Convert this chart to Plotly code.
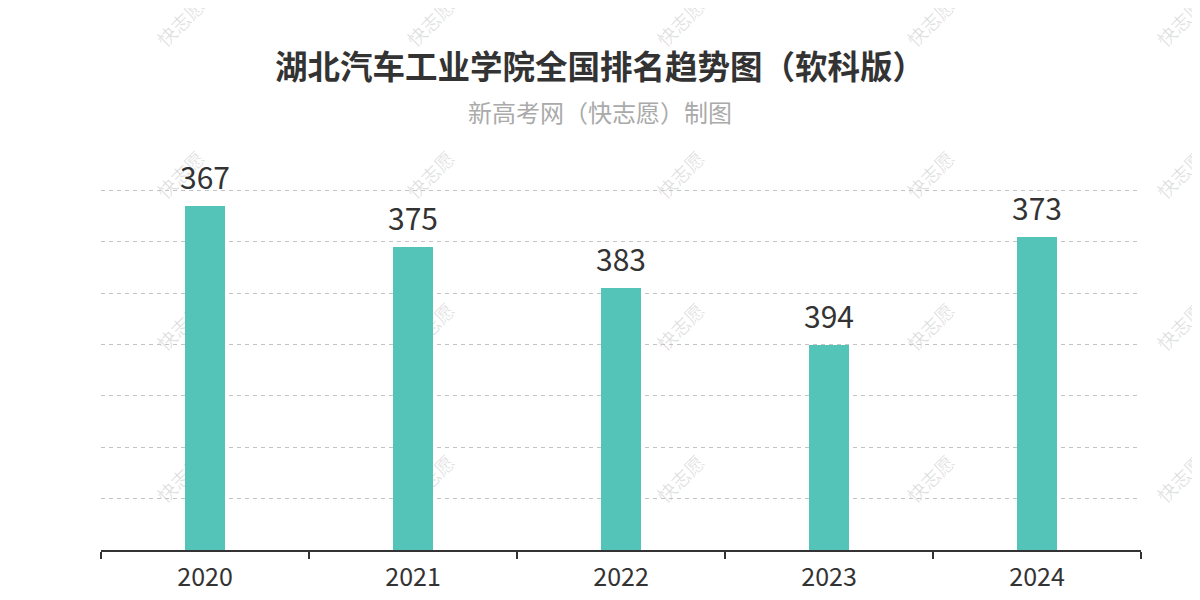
import base64
import plotly.graph_objects as go

# ---- data ----
years = ["2020", "2021", "2022", "2023", "2024"]
ranks = [367, 375, 383, 394, 373]
axis_bottom = 434   # rank value at the baseline (axis is inverted: better rank = taller bar)
axis_top = 364
grid_step = 10

title_text = "湖北汽车工业学院全国排名趋势图（软科版）"
subtitle_text = "新高考网（快志愿）制图"
watermark_text = "快志愿"

bar_color = "#55c4b8"
font_cjk = "Noto Sans CJK SC"

# page has an 8px body margin; figure coordinates = page coordinates - 8
OFF = 8
W, H = 1200 - OFF, 600 - OFF

# ---- watermark as a background image (drawn below traces) ----
wm_cols = [180, 430, 680, 930, 1180]
wm_rows = [22, 174, 326, 478]
parts = []
for cx in wm_cols:
    for cy in wm_rows:
        x, y = cx - OFF, cy - OFF
        parts.append(
            f'<text x="{x}" y="{y}" transform="rotate(-45 {x} {y})" '
            f'text-anchor="middle" dominant-baseline="central" '
            f'font-family="{font_cjk}" font-size="19" fill="#000" fill-opacity="0.12">{watermark_text}</text>'
        )
svg = (f'<svg xmlns="http://www.w3.org/2000/svg" width="{W}" height="{H}" viewBox="0 0 {W} {H}">'
       + "".join(parts) + "</svg>")
svg_uri = "data:image/svg+xml;base64," + base64.b64encode(svg.encode("utf-8")).decode("ascii")

# plot area in integer margins: bottom at page y=550, top at page y=187
L = 101 - OFF
R = W - (1141 - OFF)
B = H - (550 - OFF)
T = 187 - OFF
PW, PH = W - L - R, H - T - B
px_per_unit = (550 - 190.5) / (axis_bottom - axis_top)
range_top = axis_bottom - PH / px_per_unit

fig = go.Figure()
fig.add_trace(go.Bar(
    x=years,
    y=[r - axis_bottom for r in ranks],
    base=[axis_bottom] * len(ranks),
    width=0.192,
    marker=dict(color=bar_color, line=dict(width=0)),
    hoverinfo="skip",
))

# value labels: x given as category index so the numeric-looking year is not misread
value_labels = [
    dict(x=i, y=rk, xref="x", yref="y", text=str(rk), showarrow=False,
         xanchor="center", yanchor="bottom", yshift=6,
         font=dict(family=font_cjk, size=30, color="#333333"))
    for i, rk in enumerate(ranks)
]

fig.update_layout(
    width=W, height=H,
    margin=dict(l=L, r=R, t=T, b=B, autoexpand=False),
    paper_bgcolor="white",
    plot_bgcolor="rgba(0,0,0,0)",
    showlegend=False,
    bargap=0,
    images=[dict(source=svg_uri, xref="paper", yref="paper", x=-L / PW, y=1 + T / PH,
                 sizex=W / PW, sizey=H / PH, xanchor="left", yanchor="top",
                 sizing="stretch", layer="below")],
    annotations=[
        dict(text=f"<b>{title_text}</b>", xref="paper", yref="paper",
             x=(600 - OFF - L) / PW, y=1 + (T - (65 - OFF)) / PH, xanchor="center", yanchor="middle",
             showarrow=False, font=dict(family=font_cjk, size=32.5, color="#333333")),
        dict(text=subtitle_text, xref="paper", yref="paper",
             x=(600 - OFF - L) / PW, y=1 + (T - (111 - OFF)) / PH, xanchor="center", yanchor="middle",
             showarrow=False, font=dict(family=font_cjk, size=24, color="#aaaaaa")),
    ] + value_labels,
)

fig.update_xaxes(
    type="category",
    range=[-0.5, len(years) - 0.5],
    automargin=False,
    showline=True, linecolor="#333333", linewidth=2,
    ticks="outside", tickson="boundaries", ticklen=7, tickwidth=2, tickcolor="#333333",
    showgrid=False, zeroline=False,
    ticklabelstandoff=4,
    tickfont=dict(family=font_cjk, size=25, color="#333333"),
)
fig.update_yaxes(
    range=[axis_bottom, range_top],
    automargin=False,
    tickvals=list(range(axis_top, axis_bottom + 1, grid_step)),
    showticklabels=False, ticks="",
    showgrid=True, gridcolor="#c4c4c4", gridwidth=1, griddash="4px,4px",
    zeroline=False, showline=False,
)

fig.write_html("out.html")
